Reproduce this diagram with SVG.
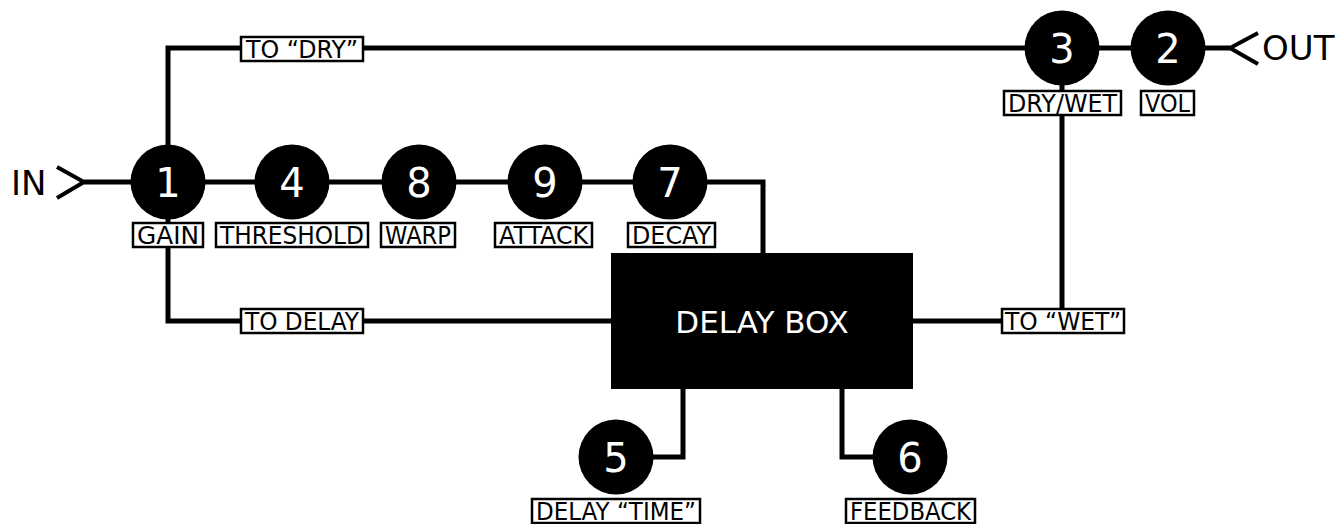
<svg xmlns="http://www.w3.org/2000/svg" width="1342" height="524" viewBox="0 0 1342 524">
<style>
.ln{fill:none;stroke:#000;stroke-width:5}
.chev{fill:none;stroke:#000;stroke-width:4}
.knob{fill:#000}
.num{font-family:"DejaVu Sans",sans-serif;font-size:40px;fill:#fff;text-anchor:middle}
.lb rect{fill:#fff;stroke:#000;stroke-width:2.5}
.lb text{font-family:"DejaVu Sans",sans-serif;font-size:24px;fill:#000;text-anchor:middle}
.io{font-family:"DejaVu Sans",sans-serif;font-size:34px;fill:#000}
</style>
<rect width="1342" height="524" fill="#fff"/>
<g id="connectors">
<path class="ln" d="M84 182 H168"/>
<path class="ln" d="M168 182 H763 V253"/>
<path class="ln" d="M168 182 V48 H1230"/>
<path class="ln" d="M168 182 V321 H611"/>
<path class="ln" d="M913 321 H1062 V48"/>
<path class="ln" d="M683 389 V457 H616"/>
<path class="ln" d="M842 389 V457 H910"/>
<path class="chev" d="M57 167 L84 182 L57 198"/>
<path class="chev" d="M1258 33 L1230 48 L1258 64"/>
</g>
<g id="in"><text class="io" x="11" y="195">IN</text></g>
<g id="out"><text class="io" x="1262" y="60">OUT</text></g>
<g id="label-to-dry" class="lb"><rect x="241" y="37" width="122" height="24"/><text x="302" y="57.5" textLength="112" lengthAdjust="spacingAndGlyphs">TO “DRY”</text></g>
<g id="label-to-delay" class="lb"><rect x="241" y="309" width="122" height="24"/><text x="302" y="329.5" textLength="114" lengthAdjust="spacingAndGlyphs">TO DELAY</text></g>
<g id="label-to-wet" class="lb"><rect x="1002" y="309" width="122" height="24"/><text x="1063" y="329.5" textLength="116" lengthAdjust="spacingAndGlyphs">TO “WET”</text></g>
<g id="node1"><circle class="knob" cx="168" cy="182" r="37.5"/><text class="num" x="168" y="197">1</text></g>
<g id="node4"><circle class="knob" cx="292" cy="182" r="37.5"/><text class="num" x="292" y="197">4</text></g>
<g id="node8"><circle class="knob" cx="419" cy="182" r="37.5"/><text class="num" x="419" y="197">8</text></g>
<g id="node9"><circle class="knob" cx="545" cy="182" r="37.5"/><text class="num" x="545" y="197">9</text></g>
<g id="node7"><circle class="knob" cx="670" cy="182" r="37.5"/><text class="num" x="670" y="197">7</text></g>
<g id="node3"><circle class="knob" cx="1062" cy="48" r="37.5"/><text class="num" x="1062" y="63">3</text></g>
<g id="node2"><circle class="knob" cx="1168" cy="48" r="37.5"/><text class="num" x="1168" y="63">2</text></g>
<g id="node5"><circle class="knob" cx="616" cy="457" r="37.5"/><text class="num" x="616" y="472">5</text></g>
<g id="node6"><circle class="knob" cx="910" cy="457" r="37.5"/><text class="num" x="910" y="472">6</text></g>
<g id="label-gain" class="lb"><rect x="133" y="223" width="70" height="24"/><text x="168" y="243.5" textLength="62" lengthAdjust="spacingAndGlyphs">GAIN</text></g>
<g id="label-threshold" class="lb"><rect x="216" y="223" width="152" height="24"/><text x="292" y="243.5" textLength="144" lengthAdjust="spacingAndGlyphs">THRESHOLD</text></g>
<g id="label-warp" class="lb"><rect x="381" y="223" width="74" height="24"/><text x="418" y="243.5" textLength="66" lengthAdjust="spacingAndGlyphs">WARP</text></g>
<g id="label-attack" class="lb"><rect x="495" y="223" width="97" height="24"/><text x="543.5" y="243.5" textLength="89" lengthAdjust="spacingAndGlyphs">ATTACK</text></g>
<g id="label-decay" class="lb"><rect x="628" y="223" width="87" height="24"/><text x="671.5" y="243.5" textLength="79" lengthAdjust="spacingAndGlyphs">DECAY</text></g>
<g id="label-drywet" class="lb"><rect x="1004" y="91" width="117" height="24"/><text x="1062.5" y="111.5" textLength="109" lengthAdjust="spacingAndGlyphs">DRY/WET</text></g>
<g id="label-vol" class="lb"><rect x="1141" y="91" width="53" height="24"/><text x="1167.5" y="111.5" textLength="45" lengthAdjust="spacingAndGlyphs">VOL</text></g>
<g id="label-delaytime" class="lb"><rect x="532" y="499" width="168" height="24"/><text x="616" y="519.5" textLength="160" lengthAdjust="spacingAndGlyphs">DELAY “TIME”</text></g>
<g id="label-feedback" class="lb"><rect x="846" y="499" width="129" height="24"/><text x="910.5" y="519.5" textLength="121" lengthAdjust="spacingAndGlyphs">FEEDBACK</text></g>
<g id="delay-box"><rect x="611" y="253" width="302" height="136" fill="#000"/><text x="762" y="333" font-family="DejaVu Sans, sans-serif" font-size="31" fill="#fff" text-anchor="middle">DELAY BOX</text></g>
</svg>
